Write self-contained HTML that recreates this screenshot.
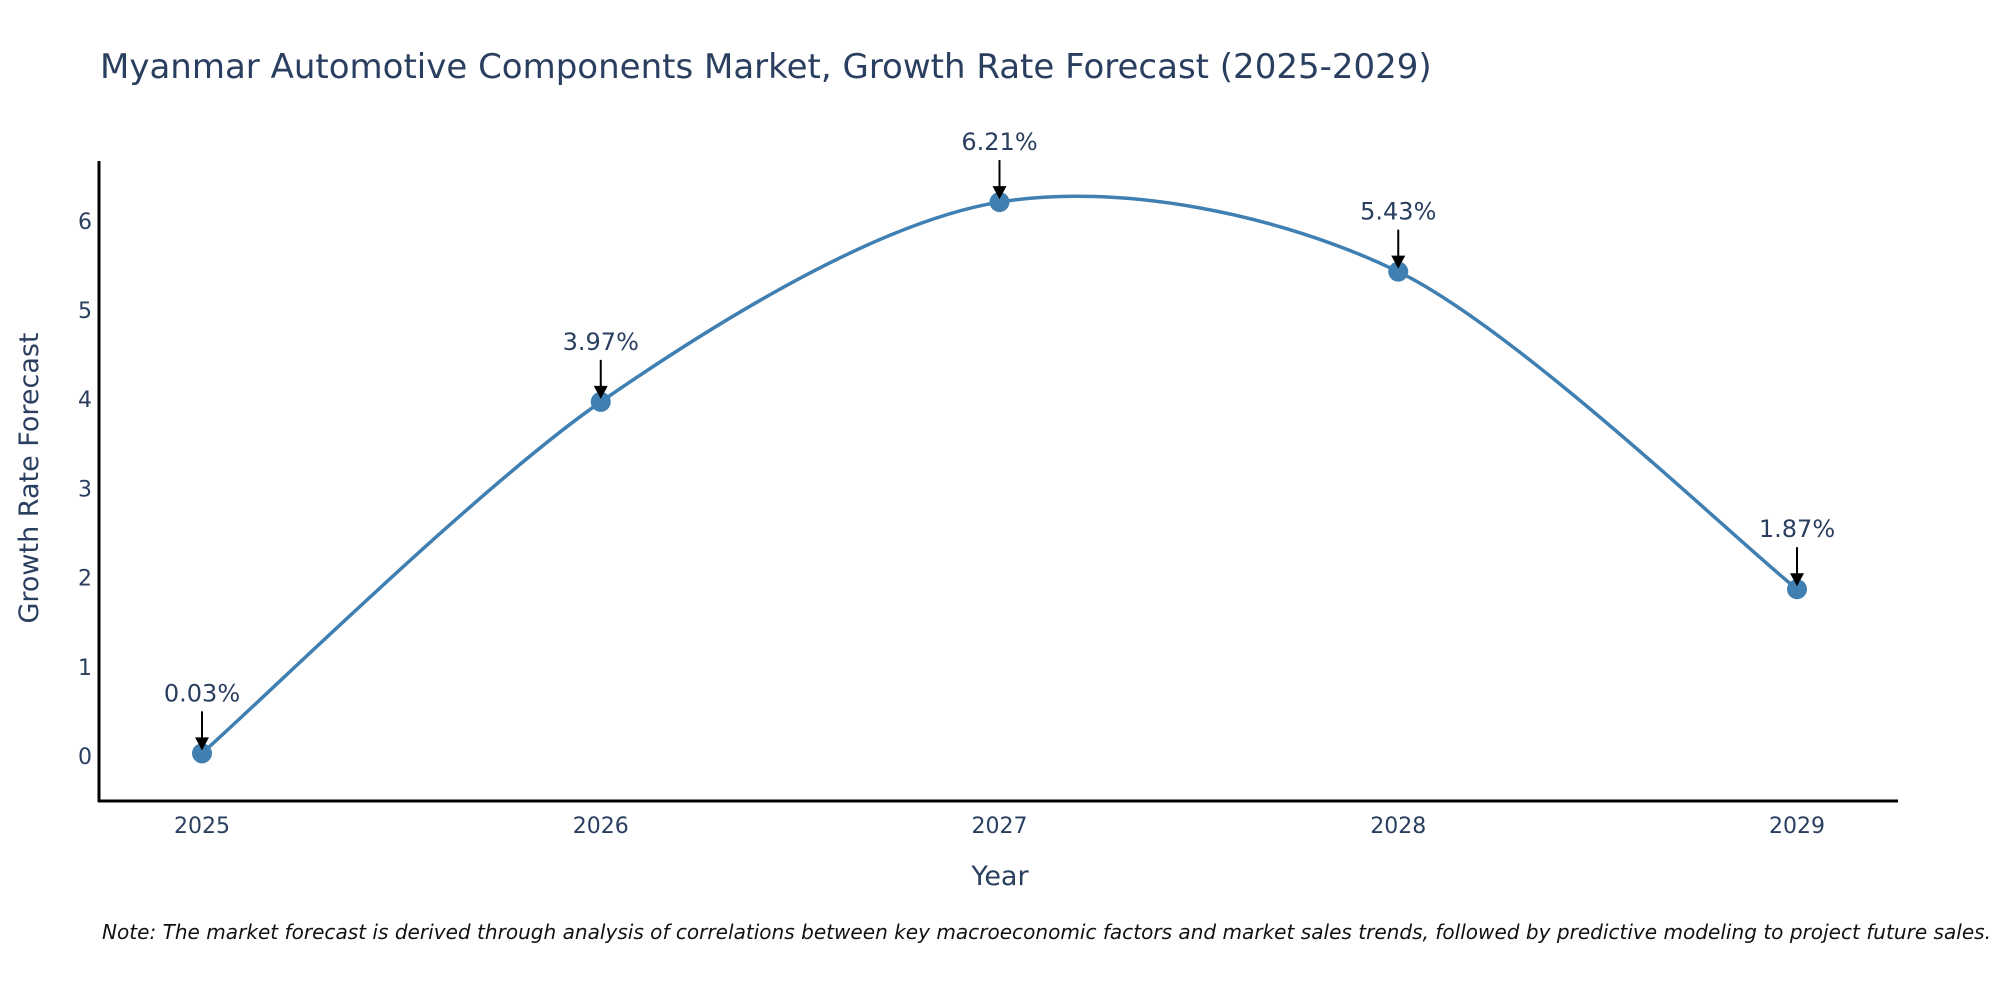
<!DOCTYPE html>
<html><head><meta charset="utf-8"><style>
body{margin:0;background:#fff}
svg text{font-family:"DejaVu Sans","Liberation Sans",sans-serif}
</style></head><body>
<svg id="chart" width="2000" height="1000" xmlns="http://www.w3.org/2000/svg">
<rect width="2000" height="1000" fill="#fff"/>
<text x="100" y="78" font-size="34" fill="#2a3f5f">Myanmar Automotive Components Market, Growth Rate Forecast (2025-2029)</text>
<g id="yticks"></g>
<g id="xticks"></g>
<line x1="99" y1="161" x2="99" y2="802" stroke="#000" stroke-width="3"/>
<line x1="98" y1="801" x2="1898" y2="801" stroke="#000" stroke-width="3"/>
<text x="1000" y="885" font-size="27" fill="#2a3f5f" text-anchor="middle">Year</text>
<text transform="translate(38,478) rotate(-90)" font-size="27" fill="#2a3f5f" text-anchor="middle">Growth Rate Forecast</text>
<path id="line" fill="none" stroke="#3f7fb1" stroke-width="3.5"/>
<g id="marks"></g>
<text x="1991" y="939" font-size="20" font-style="italic" fill="#111" text-anchor="end" textLength="1889" lengthAdjust="spacingAndGlyphs">Note: The market forecast is derived through analysis of correlations between key macroeconomic factors and market sales trends, followed by predictive modeling to project future sales.</text>
</svg>
<script>
const years=[2025,2026,2027,2028,2029];
const values=[0.03,3.97,6.21,5.43,1.87];
const labels=["0.03%","3.97%","6.21%","5.43%","1.87%"];
const yTicks=[0,1,2,3,4,5,6];
const NS="http://www.w3.org/2000/svg";
function xs(v){return 202+(v-2025)*398.75;}
function ys(v){return 756-v*89.2;}
function mk(tag,attrs,parent){const e=document.createElementNS(NS,tag);for(const k in attrs)e.setAttribute(k,attrs[k]);parent.appendChild(e);return e;}
const yg=document.getElementById('yticks');
yTicks.forEach(t=>{const e=mk('text',{x:92,y:ys(t)+8,'font-size':22,fill:'#2a3f5f','text-anchor':'end'},yg);


e.textContent=t;});
const xg=document.getElementById('xticks');
years.forEach(t=>{const e=mk('text',{x:xs(t),y:833,'font-size':22,fill:'#2a3f5f','text-anchor':'middle'},xg);


e.textContent=t;});
const pts=years.map((y,i)=>[xs(y),ys(values[i])]);
let d="M"+pts[0][0]+","+pts[0][1];
const k=0.15;
for(let i=0;i<pts.length-1;i++){
 const p0=pts[Math.max(0,i-1)],p1=pts[i],p2=pts[i+1],p3=pts[Math.min(pts.length-1,i+2)];
 const c1=[p1[0]+(p2[0]-p0[0])*k,p1[1]+(p2[1]-p0[1])*k];
 const c2=[p2[0]-(p3[0]-p1[0])*k,p2[1]-(p3[1]-p1[1])*k];
 d+=` C${c1[0]},${c1[1]} ${c2[0]},${c2[1]} ${p2[0]},${p2[1]}`;
}
document.getElementById('line').setAttribute('d',d);
const mg=document.getElementById('marks');
pts.forEach((p,i)=>{
 const c=mk('circle',{cx:p[0],cy:p[1],r:10,fill:'#3f7fb1'},mg);
 
 
 const l=mk('line',{x1:p[0],y1:p[1]-42,x2:p[0],y2:p[1]-14,stroke:'#000','stroke-width':2},mg);
 
 
 const h=mk('polygon',{points:`${p[0]-7},${p[1]-16} ${p[0]+7},${p[1]-16} ${p[0]},${p[1]-3}`,fill:'#000'},mg);
 
 
 const t=mk('text',{x:p[0],y:p[1]-52,'font-size':24,fill:'#2a3f5f','text-anchor':'middle'},mg);
 
 
 t.textContent=labels[i];
});
</script>
</body></html>
